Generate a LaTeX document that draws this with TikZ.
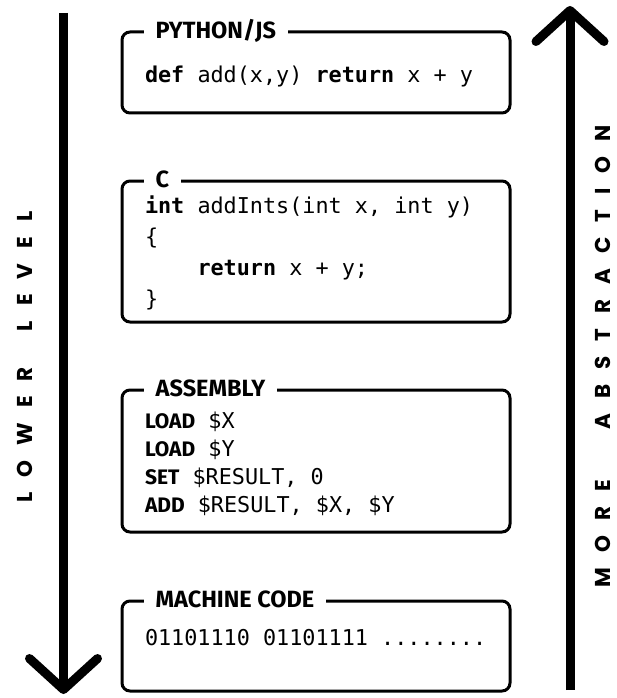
\documentclass[tikz,border=0pt]{standalone}
\usepackage{fontspec}
\setmainfont{Fira Sans}
\newfontfamily\codefont{DejaVu Sans Mono}
\newfontfamily\sidefont[LetterSpace=70]{Poppins}
\usetikzlibrary{arrows.meta, calc}

\newcommand{\kw}[1]{\textbf{#1}}
\newcommand{\asmop}[1]{{\rmfamily\bfseries\fontsize{21}{24}\selectfont #1}}
\newcommand{\codesize}[1]{\codefont\fontsize{21.8}{#1}\selectfont}
% invisible struts that fix where the code block sits in its box
\newcommand{\topstrut}[1]{\rule{0pt}{#1}}
\newcommand{\botstrut}[1]{\rule[-#1]{0pt}{#1}}

\tikzset{
  codebox/.style={draw, line width=3pt, rounded corners=8pt, inner xsep=23pt,
    text width=342pt, align=left, font=\codesize{31},
    execute at begin node={\spaceskip=0.602em\relax\xspaceskip=0.602em\relax}},
  boxtitle/.style={fill=white, inner xsep=12pt, inner ysep=2pt, anchor=base west,
    font=\bfseries\fontsize{23.5}{26}\selectfont},
  sidelabel/.style={rotate=90, inner sep=0pt, font=\sidefont\bfseries\fontsize{21.5}{24}\selectfont},
  bigarrow/.style={line width=9pt, -{Straight Barb[length=31pt, width=68pt, round]}}
}

\begin{document}
\begin{tikzpicture}[x=1pt, y=-1pt]
    \useasboundingbox (0,0) rectangle (617,698);

    % Code boxes, highest level on top
    \node[codebox, minimum height=81pt] (python) at (316,72.5)
        {\topstrut{31pt}\kw{def} add(x,y) \kw{return} x + y\botstrut{10pt}};
    \node[codebox, minimum height=141pt] (clang) at (316,251.5)
        {\topstrut{26pt}\kw{int} addInts(int x, int y)\\
         \{\\
         \phantom{xxxx}\kw{return} x + y;\\
         \}\botstrut{10pt}};
    \node[codebox, minimum height=142pt, font=\codesize{27.7}] (assembly) at (316,461)
        {\topstrut{29pt}\asmop{LOAD} \$X\\
         \asmop{LOAD} \$Y\\
         \asmop{SET} \$RESULT, 0\\
         \asmop{ADD} \$RESULT, \$X, \$Y\botstrut{10pt}};
    \node[codebox, minimum height=90pt] (machine) at (316,646)
        {\topstrut{18pt}01101110 01101111 ........\botstrut{20pt}};

    % Titles sitting on the top edge
    \node[boxtitle] (pythontitle) at ($(python.north west)+(23,8)$) {PYTHON/JS};
    \node[boxtitle] (clangtitle) at ($(clang.north west)+(23,8)$) {C};
    \node[boxtitle] (assemblytitle) at ($(assembly.north west)+(23,8)$) {ASSEMBLY};
    \node[boxtitle] (machinetitle) at ($(machine.north west)+(23,8)$) {MACHINE CODE};

    % Side arrows
    \coordinate (lowtop) at (63.5,13);
    \coordinate (lowend) at (63.5,694);
    \draw[bigarrow] (lowtop) -- (lowend);
    \coordinate (morestart) at (570,690);
    \coordinate (moreend) at (570,6);
    \draw[bigarrow] (morestart) -- (moreend);

    % Side labels
    \node[sidelabel] (lower) at (25,357) {LOWER\hspace{36pt}LEVEL};
    \node[sidelabel] (more) at (603,356) {MORE\hspace{50pt}ABSTRACTION};
\end{tikzpicture}
\end{document}
